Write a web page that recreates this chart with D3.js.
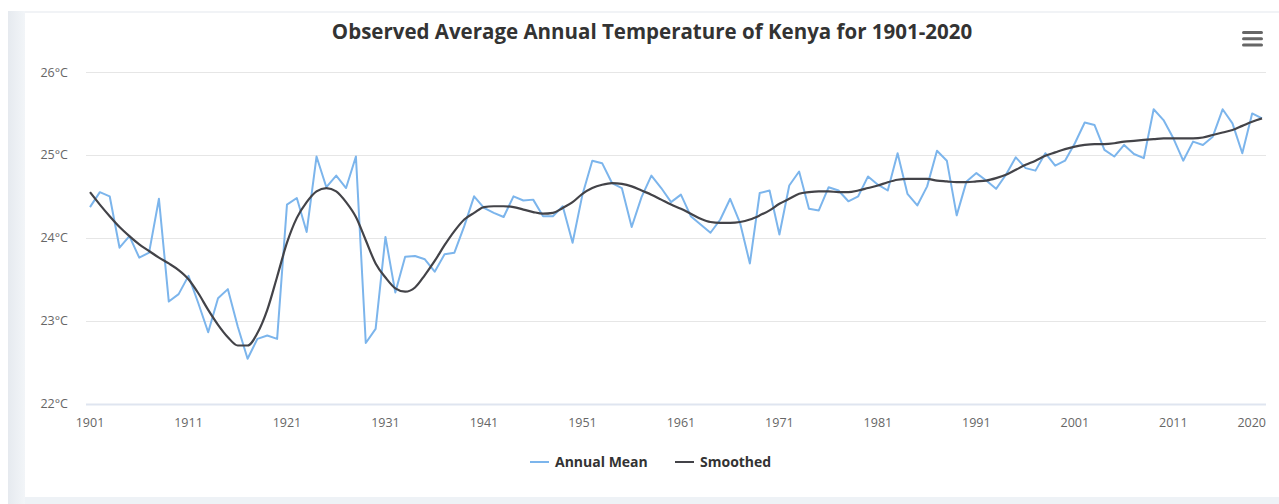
<!DOCTYPE html>
<html>
<head>
<meta charset="utf-8">
<script src="https://cdn.jsdelivr.net/npm/d3@7"></script>
<style>
  body { margin: 0; background: #fff; }
  svg { display: block; font-family: "Open Sans", "Noto Sans", sans-serif; }
  .tick-label { fill: #666; font-size: 12.5px; }
</style>
</head>
<body>
<svg id="chart" width="1279" height="504"></svg>
<script>
// Données
const YEARS = d3.range(1901, 2021);
const ANNUAL_MEAN = [
  24.37, 24.55, 24.50, 23.88, 24.02, 23.76, 23.82, 24.47, 23.23, 23.32,
  23.54, 23.21, 22.86, 23.27, 23.38, 22.93, 22.54, 22.78, 22.82, 22.78,
  24.40, 24.48, 24.07, 24.98, 24.61, 24.75, 24.60, 24.98, 22.73, 22.90,
  24.01, 23.34, 23.77, 23.78, 23.74, 23.59, 23.80, 23.82, 24.14, 24.50,
  24.36, 24.30, 24.25, 24.50, 24.45, 24.46, 24.26, 24.26, 24.38, 23.94,
  24.52, 24.93, 24.90, 24.66, 24.60, 24.13, 24.49, 24.75, 24.60, 24.43,
  24.52, 24.26, 24.16, 24.06, 24.22, 24.47, 24.18, 23.69, 24.54, 24.57,
  24.04, 24.63, 24.80, 24.35, 24.33, 24.61, 24.57, 24.44, 24.50, 24.74,
  24.64, 24.57, 25.02, 24.53, 24.39, 24.62, 25.05, 24.93, 24.27, 24.68,
  24.78, 24.69, 24.59, 24.76, 24.97, 24.84, 24.81, 25.02, 24.87, 24.93,
  25.14, 25.39, 25.36, 25.06, 24.98, 25.12, 25.01, 24.96, 25.55, 25.42,
  25.20, 24.93, 25.16, 25.12, 25.22, 25.55, 25.38, 25.02, 25.50, 25.44
];
const SMOOTHED = [
  24.55, 24.40, 24.26, 24.13, 24.02, 23.92, 23.84, 23.76, 23.69, 23.61,
  23.50, 23.33, 23.13, 22.95, 22.80, 22.70, 22.70, 22.85, 23.13, 23.53,
  23.94, 24.24, 24.43, 24.56, 24.60, 24.56, 24.43, 24.25, 23.97, 23.69,
  23.52, 23.39, 23.35, 23.40, 23.55, 23.72, 23.91, 24.08, 24.22, 24.30,
  24.37, 24.38, 24.38, 24.37, 24.34, 24.31, 24.29, 24.30, 24.36, 24.43,
  24.53, 24.60, 24.64, 24.66, 24.65, 24.62, 24.57, 24.52, 24.46, 24.40,
  24.35, 24.29, 24.23, 24.19, 24.18, 24.18, 24.19, 24.22, 24.27, 24.33,
  24.41, 24.47, 24.53, 24.55, 24.56, 24.56, 24.55, 24.55, 24.57, 24.60,
  24.63, 24.67, 24.70, 24.71, 24.71, 24.71, 24.69, 24.68, 24.67, 24.67,
  24.68, 24.69, 24.72, 24.76, 24.82, 24.88, 24.93, 24.99, 25.03, 25.07,
  25.10, 25.12, 25.13, 25.13, 25.14, 25.16, 25.17, 25.18, 25.19, 25.20,
  25.20, 25.20, 25.20, 25.21, 25.24, 25.27, 25.30, 25.35, 25.40, 25.44
];
const X_TICKS = [1901, 1911, 1921, 1931, 1941, 1951, 1961, 1971, 1981, 1991, 2001, 2011, 2020];
const Y_TICKS = [22, 23, 24, 25, 26];
const SERIES_NAMES = ["Annual Mean", "Smoothed"];
const COLORS = ["#7cb5ec", "#434348"];
const TITLE = "Observed Average Annual Temperature of Kenya for 1901-2020";

const SVG = d3.select("#chart");

// Fond de la page : bandeau gris à gauche et en bas
const GRAD = SVG.append("defs").append("linearGradient").attr("id", "side");
GRAD.append("stop").attr("offset", "0%").attr("stop-color", "#e6eaef");
GRAD.append("stop").attr("offset", "100%").attr("stop-color", "#f2f5f8");
SVG.append("rect").attr("x", 8).attr("y", 11).attr("width", 1271).attr("height", 2).attr("fill", "#f1f3f6");
SVG.append("rect").attr("x", 8).attr("y", 11).attr("width", 17).attr("height", 493).attr("fill", "url(#side)");
SVG.append("rect").attr("x", 25).attr("y", 497).attr("width", 1254).attr("height", 7).attr("fill", "#eef2f6");

const PLOT = { left: 86, right: 1266, top: 72, bottom: 403.5 };

const SCALE_X = d3.scaleLinear().domain([1901, 2020]).range([PLOT.left + 4, PLOT.right - 4]);
const SCALE_Y = d3.scaleLinear().domain([22, 26]).range([PLOT.bottom, PLOT.top]);

// Lignes de grille horizontales
SVG.append("g")
  .selectAll("line")
  .data(Y_TICKS)
  .join("line")
  .attr("x1", PLOT.left).attr("x2", PLOT.right)
  .attr("y1", d => Math.round(SCALE_Y(d)) + 0.5)
  .attr("y2", d => Math.round(SCALE_Y(d)) + 0.5)
  .attr("stroke", d => d === 22 ? "#dfe5f0" : "#e6e6e6")
  .attr("stroke-width", d => d === 22 ? 2 : 1);

// Étiquettes de l'axe vertical
SVG.selectAll("text.y-label")
  .data(Y_TICKS)
  .join("text")
  .attr("class", "tick-label y-label")
  .attr("x", 68)
  .attr("y", d => SCALE_Y(d) + 4.5)
  .attr("text-anchor", "end")
  .text(d => `${d}°C`);

// Étiquettes de l'axe horizontal (la dernière reste dans le cadre)
SVG.selectAll("text.x-label")
  .data(X_TICKS)
  .join("text")
  .attr("class", "tick-label x-label")
  .attr("x", d => d === 2020 ? PLOT.right : SCALE_X(d))
  .attr("y", 427)
  .attr("text-anchor", d => d === 2020 ? "end" : "middle")
  .text(d => d);

// Courbes
const LINE_ANNUAL = d3.line()
  .x((d, i) => SCALE_X(YEARS[i]))
  .y(d => SCALE_Y(d));

const LINE_SMOOTH = d3.line()
  .x((d, i) => SCALE_X(YEARS[i]))
  .y(d => SCALE_Y(d))
  .curve(d3.curveMonotoneX);

SVG.append("path")
  .datum(ANNUAL_MEAN)
  .attr("d", LINE_ANNUAL)
  .attr("fill", "none")
  .attr("stroke", COLORS[0])
  .attr("stroke-width", 2)
  .attr("stroke-linejoin", "round");

SVG.append("path")
  .datum(SMOOTHED)
  .attr("d", LINE_SMOOTH)
  .attr("fill", "none")
  .attr("stroke", COLORS[1])
  .attr("stroke-width", 2.2)
  .attr("stroke-linejoin", "round");

// Titre
SVG.append("text")
  .attr("x", 652)
  .attr("y", 39)
  .attr("text-anchor", "middle")
  .attr("fill", "#333")
  .attr("font-size", "20.5px")
  .attr("font-weight", "bold")
  .text(TITLE);

// Icône de menu
SVG.selectAll("rect.menu")
  .data([0, 1, 2])
  .join("rect")
  .attr("class", "menu")
  .attr("x", 1242).attr("y", d => 31 + d * 6.3)
  .attr("width", 21).attr("height", 3)
  .attr("rx", 1.5)
  .attr("fill", "#666");

// Légende
const LEGEND_X = [530, 675];
const legend = SVG.selectAll("g.legend")
  .data(SERIES_NAMES)
  .join("g")
  .attr("class", "legend")
  .attr("transform", (d, i) => `translate(${LEGEND_X[i]},462)`);

legend.append("line")
  .attr("x1", 0).attr("x2", 19)
  .attr("stroke", (d, i) => COLORS[i])
  .attr("stroke-width", 2);

legend.append("text")
  .attr("x", 25)
  .attr("y", 5)
  .attr("fill", "#333")
  .attr("font-size", "14px")
  .attr("font-weight", "bold")
  .text(d => d);
</script>
</body>
</html>
